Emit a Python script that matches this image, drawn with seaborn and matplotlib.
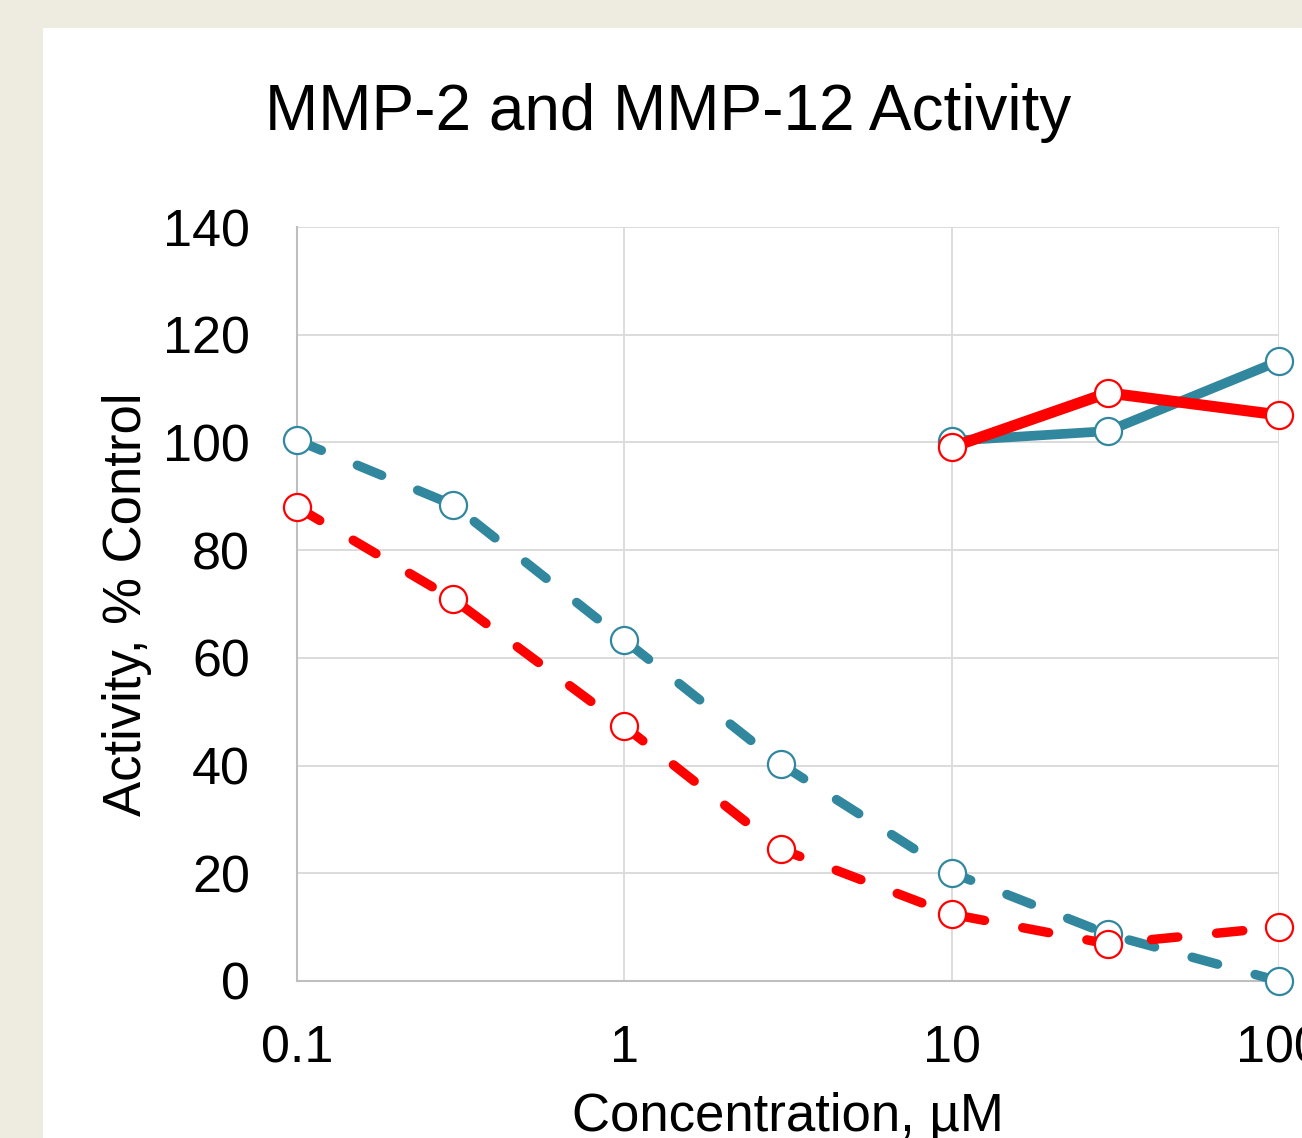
import numpy as np
import pandas as pd
import seaborn as sns
import matplotlib.pyplot as plt
from matplotlib.patches import Rectangle

sns.set_style("white")
plt.rcParams['font.family'] = ['Liberation Sans', 'DejaVu Sans']
plt.rcParams['lines.scale_dashes'] = False
plt.rcParams['text.color'] = 'black'

# data
conc_dose = [0.1, 0.3, 1, 3, 10, 30, 100]
mmp2_dose = [100.4, 88.4, 63.3, 40.3, 20.1, 8.7, 0.0]
mmp12_dose = [88.0, 70.9, 47.3, 24.5, 12.4, 6.9, 10.0]
conc_hi = [10, 30, 100]
mmp2_hi = [100.3, 102.1, 115.1]
mmp12_hi = [99.1, 109.2, 105.1]

teal = '#31879E'
red = '#FF0000'

fig = plt.figure(figsize=(13.02, 11.38), dpi=100)
fig.patch.set_facecolor('#EEEBE0')
fig.patches.append(Rectangle((43/1302, 0), 1.0, (1138-28)/1138, transform=fig.transFigure,
                             facecolor='white', edgecolor='none', zorder=-1))

ax = fig.add_axes([297/1302, (1138-981)/1138, (1279-297)/1302, (981-227)/1138])
ax.set_facecolor('white')

dash = (0, (19, 28))
mk = dict(marker='o', markersize=19.5, markerfacecolor='white', markeredgewidth=1.6,
          clip_on=False, dash_capstyle='round', solid_capstyle='round')

sns.lineplot(x=conc_dose, y=mmp2_dose, ax=ax, color=teal, linewidth=6.8, linestyle=dash,
             markeredgecolor=teal, zorder=3, **mk)
sns.lineplot(x=conc_dose, y=mmp12_dose, ax=ax, color=red, linewidth=6.8, linestyle=dash,
             markeredgecolor=red, zorder=4, **mk)
sns.lineplot(x=conc_hi, y=mmp2_hi, ax=ax, color=teal, linewidth=7.0,
             markeredgecolor=teal, zorder=5, **mk)
sns.lineplot(x=conc_hi, y=mmp12_hi, ax=ax, color=red, linewidth=8.0,
             markeredgecolor=red, zorder=6, **mk)

ax.set_xscale('log')
ax.set_xlim(0.1, 100)
ax.set_ylim(0, 140)
ax.set_xticks([0.1, 1, 10, 100])
ax.set_xticklabels(['0.1', '1', '10', '100'])
ax.minorticks_off()
ax.set_yticks(np.arange(0, 141, 20))
ax.grid(True, color='#D9D9D9', linewidth=1.3)
ax.set_axisbelow(True)
for s in ['top', 'right']:
    ax.spines[s].set_visible(False)
for s in ['left', 'bottom']:
    ax.spines[s].set_color('#BFBFBF')
    ax.spines[s].set_linewidth(1.5)
ax.tick_params(axis='both', length=0, labelsize=37.5, labelcolor='black')
ax.tick_params(axis='x', pad=31)
ax.tick_params(axis='y', pad=34)
for lab in ax.get_xticklabels():
    lab.set_clip_on(False)

ax.set_xlabel('')
ax.set_ylabel('')
fig.text(668/1302, 1 - 113/1138, 'MMP-2 and MMP-12 Activity', fontsize=46,
         ha='center', va='center', color='black')
fig.text(127/1302, 1 - 604/1138, 'Activity, % Control', fontsize=38,
         ha='center', va='center', rotation=90, color='black')
fig.text(788/1302, (1138-1131)/1138, 'Concentration, µM', fontsize=38,
         ha='center', va='baseline', color='black')

fig.savefig('out.png', dpi=100, facecolor=fig.get_facecolor())
